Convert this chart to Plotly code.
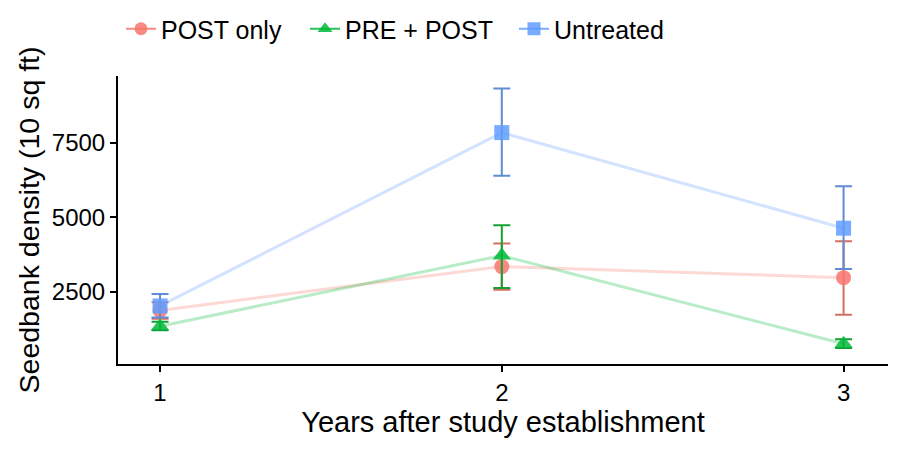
import plotly.graph_objects as go

years = [1, 2, 3]
series_names = ["POST only", "PRE + POST", "Untreated"]
post_only = [1880, 3350, 2980]
post_only_hi = [2150, 4130, 4200]
post_only_lo = [1600, 2570, 1730]
pre_post = [1350, 3720, 760]
pre_post_hi = [1500, 4740, 910]
pre_post_lo = [1210, 2630, 620]
untreated = [2030, 7850, 4640]
untreated_hi = [2430, 9330, 6050]
untreated_lo = [1640, 6400, 3270]

colors = {"POST only": (248, 118, 109), "PRE + POST": (0, 186, 56), "Untreated": (97, 156, 255)}
err_colors = {"POST only": "rgb(214,110,100)", "PRE + POST": "rgb(20,160,50)", "Untreated": "rgb(95,140,215)"}
symbols = {"POST only": "circle", "PRE + POST": "triangle-up", "Untreated": "square"}
data = {
    "POST only": (post_only, post_only_hi, post_only_lo),
    "PRE + POST": (pre_post, pre_post_hi, pre_post_lo),
    "Untreated": (untreated, untreated_hi, untreated_lo),
}
legend_ids = {"POST only": "legend", "PRE + POST": "legend2", "Untreated": "legend3"}
# desired legend box left edges (figure px)
legend_left_px = {"POST only": 113, "PRE + POST": 297, "Untreated": 506}

W, H = 885, 434
ML, MR, MT, MB = 110, 5, 68, 78
PW = W - ML - MR

fig = go.Figure()
for name in series_names:
    y, hi, lo = data[name]
    r, g, b = colors[name]
    fig.add_trace(go.Scatter(x=years, y=y, mode="lines", showlegend=False,
                             line=dict(color=f"rgba({r},{g},{b},0.28)", width=3), hoverinfo="skip"))
    fig.add_trace(go.Scatter(x=years, y=y, mode="markers", showlegend=False,
                             marker=dict(size=1, color="rgba(0,0,0,0)"),
                             error_y=dict(type="data", symmetric=False,
                                          array=[h - v for h, v in zip(hi, y)],
                                          arrayminus=[v - l for l, v in zip(lo, y)],
                                          color=err_colors[name], thickness=2, width=8.5)))
    fig.add_trace(go.Scatter(x=years, y=y, mode="markers", showlegend=False,
                             marker=dict(symbol=symbols[name], size=15 if name != "PRE + POST" else 16,
                                         color=f"rgba({r},{g},{b},0.85)", line=dict(width=0))))

legend_layouts = {}
for name in series_names:
    r, g, b = colors[name]
    fig.add_trace(go.Scatter(x=[None], y=[None], mode="lines+markers", name=name,
                             legend=legend_ids[name],
                             marker=dict(symbol=symbols[name], size=13, color=f"rgba({r},{g},{b},0.85)"),
                             line=dict(color=f"rgba({r},{g},{b},0.85)", width=2)))
    legend_layouts[legend_ids[name]] = dict(
        orientation="h", x=(legend_left_px[name] - ML) / PW, xanchor="left",
        y=1 - 21 / H, yref="container", yanchor="middle",
        font=dict(size=25), bgcolor="rgba(0,0,0,0)")

font_family = "Liberation Sans, Arial, sans-serif"
fig.update_layout(
    width=W, height=H,
    paper_bgcolor="white", plot_bgcolor="white",
    margin=dict(l=ML, r=MR, t=MT, b=MB),
    font=dict(family=font_family, color="black"),
    xaxis=dict(range=[0.877, 3.13], tickvals=years, ticktext=["1", "2", "3"], automargin=False,
               showgrid=False, zeroline=False, showline=True, linecolor="black", linewidth=2,
               ticks="outside", ticklen=6, tickwidth=1.5, tickcolor="black",
               tickfont=dict(size=24),
               title=dict(text="Years after study establishment", font=dict(size=29), standoff=6)),
    yaxis=dict(range=[80, 9750], tickvals=[2500, 5000, 7500], automargin=False,
               showgrid=False, zeroline=False, showline=True, linecolor="black", linewidth=2,
               ticks="outside", ticklen=6, tickwidth=1.5, tickcolor="black",
               tickfont=dict(size=24),
               title=dict(text="Seedbank density (10 sq ft)", font=dict(size=28.5), standoff=4)),
    **legend_layouts,
)
fig.write_html("out.html")
